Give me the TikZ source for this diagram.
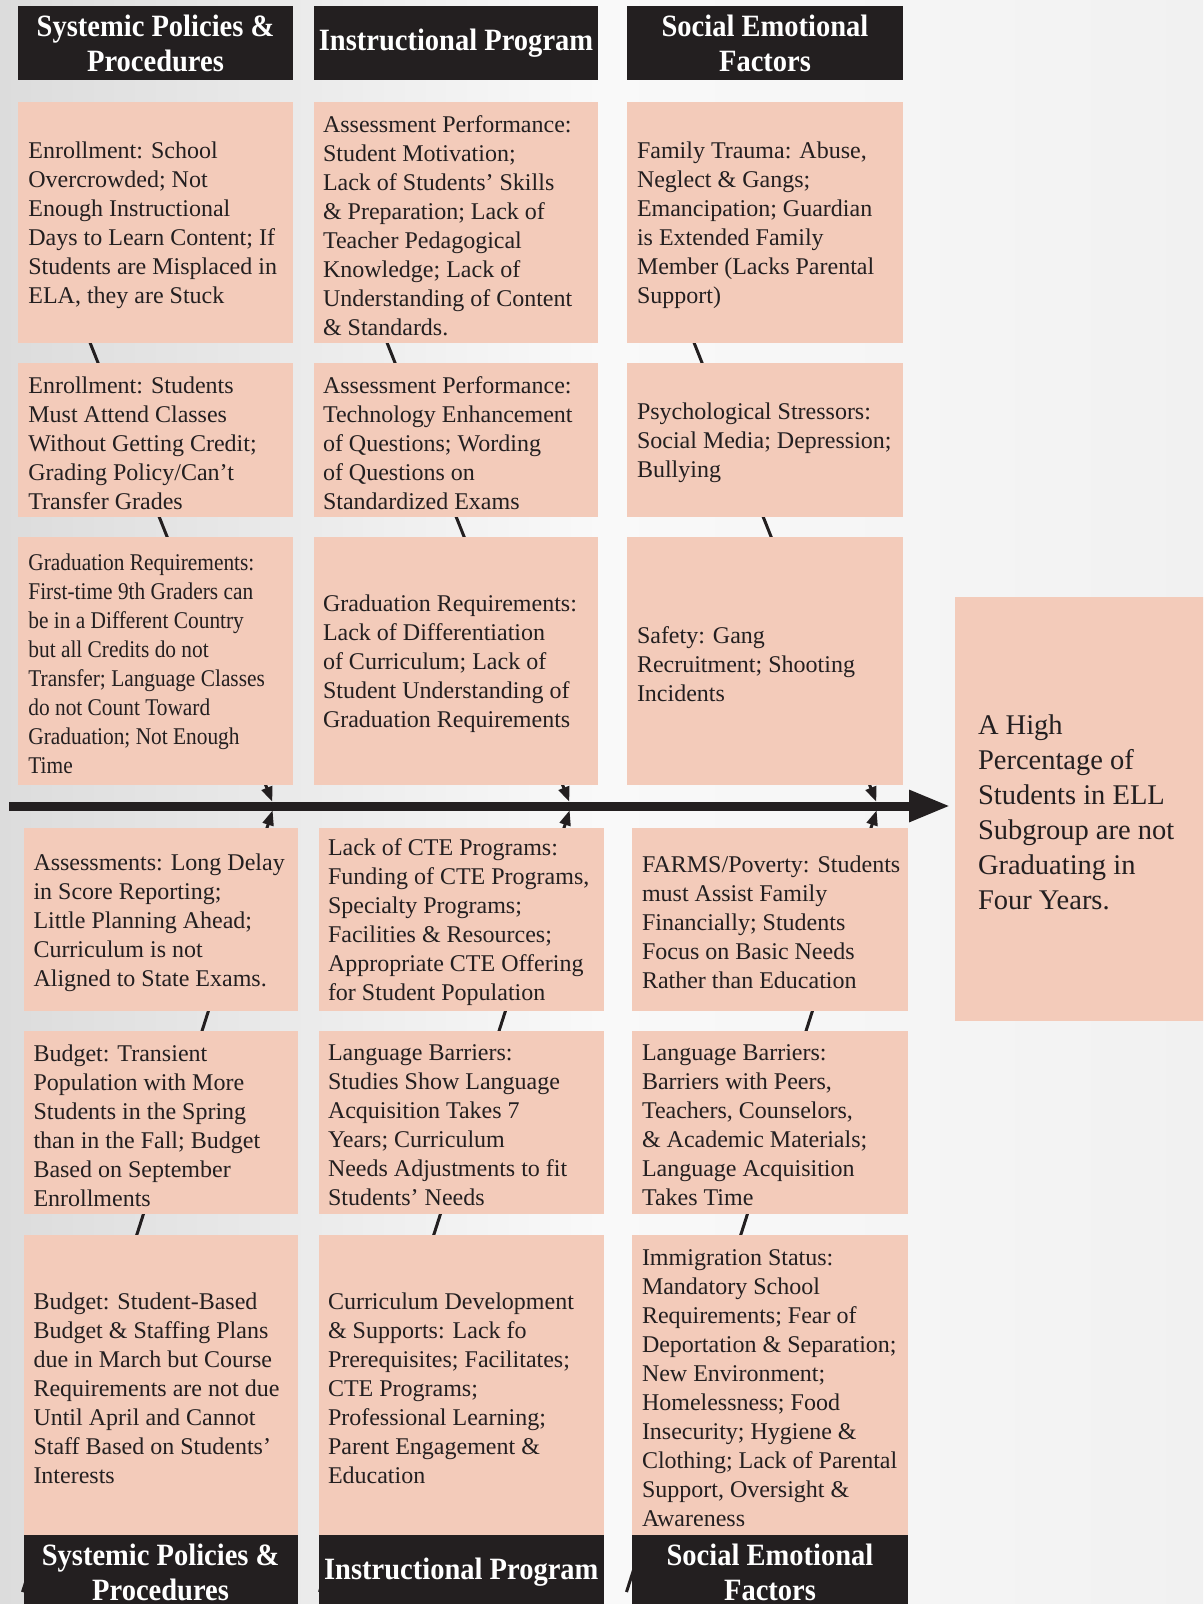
\documentclass[tikz,border=0pt]{standalone}
\usepackage{fontspec}
\setmainfont{Liberation Serif}
\newfontfamily\narrowfam[FakeStretch=0.89]{Liberation Serif}
\newfontfamily\hdrfam[FakeStretch=0.92]{Liberation Serif}
\usetikzlibrary{arrows.meta,calc,fit,positioning}
\definecolor{peach}{HTML}{F3CBBA}
\definecolor{ink}{HTML}{231F20}
\definecolor{bgl}{HTML}{DCDCDC}
\definecolor{bgm}{HTML}{F9F9F9}
\definecolor{bgr}{HTML}{F1F1F1}
\newcommand\cellfont{\fontsize{24}{29}\selectfont}
\newcommand\narrowfont{\narrowfam\fontsize{24}{29}\selectfont}
\newcommand\hdrfont{\hdrfam\bfseries\fontsize{31}{35}\selectfont}
\newcommand\effectfont{\fontsize{28.5}{35}\selectfont}

\begin{document}
\begin{tikzpicture}[x=1pt, y=-1pt,
  cell/.style={fill=peach, inner sep=0pt},
  hdr/.style={fill=ink, inner sep=0pt},
  htxt/.style={text=white, font=\hdrfont, align=center, inner sep=0pt},
  txt/.style={anchor=west, align=left, inner sep=0pt, yshift=-3pt, text=ink, font=\cellfont},
  bone/.style={draw=ink, line width=3pt, -{Triangle[length=15pt,width=11pt]}, shorten >=4.5pt},
  spine/.style={draw=ink, line width=9pt, -{Triangle[length=41pt,width=30pt]}}]
  \useasboundingbox (0,0) rectangle (1203,1604);
  \clip (0,0) rectangle (1203,1604);
  \shade[left color=bgl, right color=bgr, middle color=bgm] (0,0) rectangle (1203,1604);

  % spine and bones
  \coordinate (tail) at (9,806);
  \coordinate (head) at (950,806);
  \coordinate (j1) at (274,806);
  \coordinate (j2) at (571,806);
  \coordinate (j3) at (878,806);
  \foreach \j in {j1,j2,j3}{
    \draw[bone] ($(\j)+(-240.6,-606)$) -- (\j);
    \draw[bone] ($(\j)+(-251.5,786)$) -- (\j);
  }
  \draw[spine] (tail) -- (head);

  % top headers
  \node[hdr, fit={(18.4,6) (292.6,80)}] (hsys) {};
  \node[htxt] at (hsys) {Systemic Policies \&\\Procedures};
  \node[hdr, fit={(314,6) (598,80)}] (hins) {};
  \node[htxt] at (hins) {Instructional Program};
  \node[hdr, fit={(627,6) (903,80)}] (hsoc) {};
  \node[htxt] at (hsoc) {Social Emotional\\Factors};

  % systemic policies, top
  \node[cell, fit={(18.4,102) (292.6,343)}] (s1) {};
  \node[txt] at ([xshift=10pt]s1.west) {Enrollment: School\\Overcrowded; Not\\Enough Instructional\\Days to Learn Content; If\\Students are Misplaced in\\ELA, they are Stuck};
  \node[cell, fit={(18.4,363) (292.6,517)}] (s2) {};
  \node[txt] at ([xshift=10pt]s2.west) {Enrollment: Students\\Must Attend Classes\\Without Getting Credit;\\Grading Policy/Can’t\\Transfer Grades};
  \node[cell, fit={(18.4,537) (292.6,785)}] (s3) {};
  \node[txt, font=\narrowfont] at ([xshift=10pt]s3.west) {Graduation Requirements:\\First-time 9th Graders can\\be in a Different Country\\but all Credits do not\\Transfer; Language Classes\\do not Count Toward\\Graduation; Not Enough\\Time};

  % instructional program, top
  \node[cell, fit={(314,102) (598,343)}] (i1) {};
  \node[txt] at ([xshift=9pt]i1.west) {Assessment Performance:\\Student Motivation;\\Lack of Students’ Skills\\\& Preparation; Lack of\\Teacher Pedagogical\\Knowledge; Lack of\\Understanding of Content\\\& Standards.};
  \node[cell, fit={(314,363) (598,517)}] (i2) {};
  \node[txt] at ([xshift=9pt]i2.west) {Assessment Performance:\\Technology Enhancement\\of Questions; Wording\\of Questions on\\Standardized Exams};
  \node[cell, fit={(314,537) (598,785)}] (i3) {};
  \node[txt] at ([xshift=9pt]i3.west) {Graduation Requirements:\\Lack of Differentiation\\of Curriculum; Lack of\\Student Understanding of\\Graduation Requirements};

  % social emotional, top
  \node[cell, fit={(627,102) (903,343)}] (e1) {};
  \node[txt] at ([xshift=10pt]e1.west) {Family Trauma: Abuse,\\Neglect \& Gangs;\\Emancipation; Guardian\\is Extended Family\\Member (Lacks Parental\\Support)};
  \node[cell, fit={(627,363) (903,517)}] (e2) {};
  \node[txt] at ([xshift=10pt]e2.west) {Psychological Stressors:\\Social Media; Depression;\\Bullying};
  \node[cell, fit={(627,537) (903,785)}] (e3) {};
  \node[txt] at ([xshift=10pt]e3.west) {Safety: Gang\\Recruitment; Shooting\\Incidents};

  % systemic policies, bottom
  \node[cell, fit={(23.5,828) (297.7,1011)}] (s4) {};
  \node[txt] at ([xshift=10pt]s4.west) {Assessments: Long Delay\\in Score Reporting;\\Little Planning Ahead;\\Curriculum is not\\Aligned to State Exams.};
  \node[cell, fit={(23.5,1031) (297.7,1214)}] (s5) {};
  \node[txt] at ([xshift=10pt]s5.west) {Budget: Transient\\Population with More\\Students in the Spring\\than in the Fall; Budget\\Based on September\\Enrollments};
  \node[cell, fit={(23.5,1235) (297.7,1535)}] (s6) {};
  \node[txt] at ([xshift=10pt]s6.west) {Budget: Student-Based\\Budget \& Staffing Plans\\due in March but Course\\Requirements are not due\\Until April and Cannot\\Staff Based on Students’\\Interests};

  % instructional program, bottom
  \node[cell, fit={(319,828) (603.6,1011)}] (i4) {};
  \node[txt] at ([xshift=9pt]i4.west) {Lack of CTE Programs:\\Funding of CTE Programs,\\Specialty Programs;\\Facilities \& Resources;\\Appropriate CTE Offering\\for Student Population};
  \node[cell, fit={(319,1031) (603.6,1214)}] (i5) {};
  \node[txt] at ([xshift=9pt]i5.west) {Language Barriers:\\Studies Show Language\\Acquisition Takes 7\\Years; Curriculum\\Needs Adjustments to fit\\Students’ Needs};
  \node[cell, fit={(319,1235) (603.6,1535)}] (i6) {};
  \node[txt] at ([xshift=9pt]i6.west) {Curriculum Development\\\& Supports: Lack fo\\Prerequisites; Facilitates;\\CTE Programs;\\Professional Learning;\\Parent Engagement \&\\Education};

  % social emotional, bottom
  \node[cell, fit={(632,828) (908,1011)}] (e4) {};
  \node[txt] at ([xshift=10pt]e4.west) {FARMS/Poverty: Students\\must Assist Family\\Financially; Students\\Focus on Basic Needs\\Rather than Education};
  \node[cell, fit={(632,1031) (908,1214)}] (e5) {};
  \node[txt] at ([xshift=10pt]e5.west) {Language Barriers:\\Barriers with Peers,\\Teachers, Counselors,\\\& Academic Materials;\\Language Acquisition\\Takes Time};
  \node[cell, fit={(632,1235) (908,1535)}] (e6) {};
  \node[txt] at ([xshift=10pt]e6.west) {Immigration Status:\\Mandatory School\\Requirements; Fear of\\Deportation \& Separation;\\New Environment;\\Homelessness; Food\\Insecurity; Hygiene \&\\Clothing; Lack of Parental\\Support, Oversight \&\\Awareness};

  % bottom headers
  \node[hdr, fit={(23.5,1535) (297.7,1609)}] (hsys2) {};
  \node[htxt] at (hsys2) {Systemic Policies \&\\Procedures};
  \node[hdr, fit={(319,1535) (603.6,1609)}] (hins2) {};
  \node[htxt] at (hins2) {Instructional Program};
  \node[hdr, fit={(632,1535) (908,1609)}] (hsoc2) {};
  \node[htxt] at (hsoc2) {Social Emotional\\Factors};

  % effect
  \node[cell, fit={(955,597) (1210,1021)}] (eff) {};
  \node[txt, font=\effectfont] at ([xshift=23pt]eff.west) {A High\\Percentage of\\Students in ELL\\Subgroup are not\\Graduating in\\Four Years.};
\end{tikzpicture}
\end{document}
